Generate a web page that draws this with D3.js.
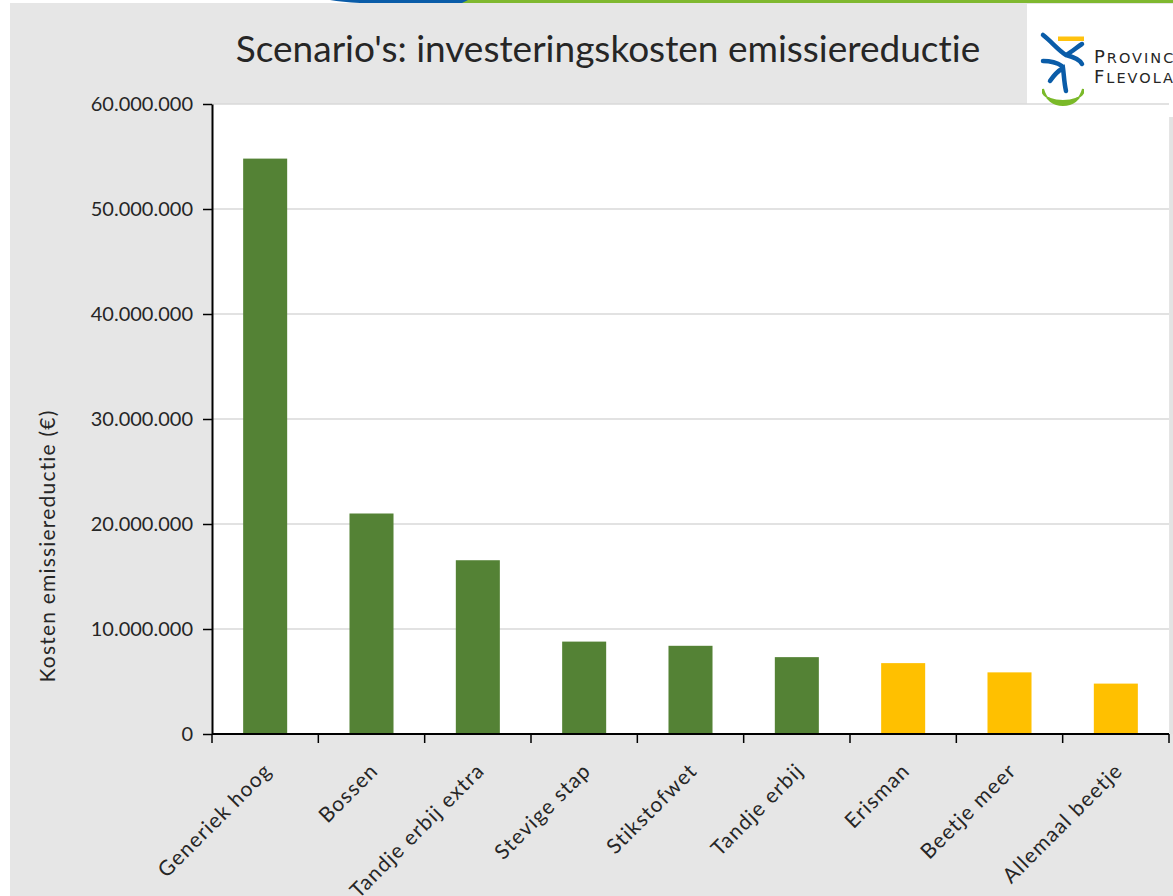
<!DOCTYPE html>
<html>
<head>
<meta charset="utf-8">
<script src="https://cdn.jsdelivr.net/npm/d3@7"></script>
<style>
  body { margin: 0; background: #fff; }
  svg { display: block; }
  text { font-variant-ligatures: none; }
</style>
</head>
<body>
<script>
// Gegevens van de grafiek
const scenarios = ["Generiek hoog", "Bossen", "Tandje erbij extra", "Stevige stap", "Stikstofwet",
                   "Tandje erbij", "Erisman", "Beetje meer", "Allemaal beetje"];
const kosten = [54800000, 21000000, 16550000, 8800000, 8400000, 7320000, 6750000, 5870000, 4800000];
const groep = ["groen", "groen", "groen", "groen", "groen", "groen", "geel", "geel", "geel"];
const yTicks = [0, 10000000, 20000000, 30000000, 40000000, 50000000, 60000000];
const titel = "Scenario's: investeringskosten emissiereductie";
const yTitel = "Kosten emissiereductie (€)";

const kleuren = { groen: "#548235", geel: "#ffc000" };
const font = "Lato, 'Open Sans', sans-serif";

const width = 1173;
const height = 896;
const plot = { left: 212, right: 1169, top: 104, bottom: 734 };

const svg = d3.select("body").append("svg")
    .attr("width", width)
    .attr("height", height);

// Achtergrond van de dia
svg.append("rect").attr("x", 10).attr("y", 3).attr("width", width - 10).attr("height", height - 3)
    .attr("fill", "#e6e6e6");

// Balk bovenaan (blauw + groen)
svg.append("rect").attr("x", 450).attr("y", 0).attr("width", width - 450).attr("height", 3).attr("fill", "#7fb82f");
svg.append("path").attr("d", "M330,0 L468,0 L462,3 L360,3 Q342,2 330,0 Z").attr("fill", "#0a5ca8");

// Witte vlakken: plotgebied en logo
svg.append("rect").attr("x", plot.left).attr("y", plot.top)
    .attr("width", plot.right - plot.left).attr("height", plot.bottom - plot.top).attr("fill", "#fff");
svg.append("rect").attr("x", 1027).attr("y", 4).attr("width", width - 1027).attr("height", 113).attr("fill", "#fff");
svg.append("rect").attr("x", 1169.5).attr("y", 117).attr("width", 3.5).attr("height", plot.bottom - 117).attr("fill", "#e3e3e3");

// Schalen
const x = d3.scaleBand().domain(scenarios).range([plot.left, plot.right]).paddingInner(0.586).paddingOuter(0.293);
const y = d3.scaleLinear().domain([0, 60000000]).range([plot.bottom, plot.top]);

const nl = d3.formatLocale({ decimal: ",", thousands: ".", grouping: [3], currency: ["€", ""] });
const fmt = nl.format(",d");

// Rasterlijnen
svg.append("g").selectAll("line")
    .data(yTicks.filter(d => d > 0))
    .join("line")
    .attr("x1", plot.left).attr("x2", plot.right)
    .attr("y1", d => y(d)).attr("y2", d => y(d))
    .attr("stroke", "#d9d9d9").attr("stroke-width", 1.5);

// Balken
svg.append("g").selectAll("rect")
    .data(scenarios)
    .join("rect")
    .attr("x", d => x(d))
    .attr("width", x.bandwidth())
    .attr("y", (d, i) => y(kosten[i]))
    .attr("height", (d, i) => y(0) - y(kosten[i]))
    .attr("fill", (d, i) => kleuren[groep[i]]);

// Y-as
const yAxis = svg.append("g")
    .attr("transform", `translate(${plot.left},0)`)
    .call(d3.axisLeft(y).tickValues(yTicks).tickFormat(fmt).tickSize(9).tickPadding(10).tickSizeOuter(0));
yAxis.select(".domain").attr("stroke", "#000").attr("stroke-width", 2);
yAxis.selectAll(".tick line").attr("stroke", "#000").attr("stroke-width", 1.5);
yAxis.selectAll(".tick text")
    .attr("font-family", font)
    .attr("font-size", 20)
    .attr("fill", "#262626");

// X-as met tickjes op de grenzen tussen de categorieën
const xAxis = svg.append("g");
xAxis.append("line")
    .attr("x1", plot.left).attr("x2", plot.right)
    .attr("y1", plot.bottom).attr("y2", plot.bottom)
    .attr("stroke", "#000").attr("stroke-width", 2);
const grenzen = scenarios.map(d => x(d) - x.step() * x.paddingInner() / 2).concat([plot.right]);
xAxis.selectAll("line.tik")
    .data(grenzen)
    .join("line")
    .attr("class", "tik")
    .attr("x1", d => d).attr("x2", d => d)
    .attr("y1", plot.bottom).attr("y2", plot.bottom + 9)
    .attr("stroke", "#000").attr("stroke-width", 1.5);

xAxis.selectAll("text")
    .data(scenarios)
    .join("text")
    .attr("transform", d => `translate(${x(d) + x.bandwidth() / 2 + 8},${plot.bottom + 38}) rotate(-45)`)
    .attr("text-anchor", "end")
    .attr("font-family", font)
    .attr("font-size", 21)
    .attr("letter-spacing", 1.2)
    .attr("fill", "#262626")
    .text(d => d);

// Astitel
svg.append("text")
    .attr("transform", "translate(55,546) rotate(-90)")
    .attr("text-anchor", "middle")
    .attr("font-family", font)
    .attr("font-size", 21)
    .attr("letter-spacing", 1.2)
    .attr("fill", "#262626")
    .text(yTitel);

// Titel
svg.append("text")
    .attr("x", 608)
    .attr("y", 62)
    .attr("text-anchor", "middle")
    .attr("font-family", font)
    .attr("font-size", 37)
    .attr("fill", "#262626")
    .text(titel);

// Logo Provincie Flevoland
const logo = svg.append("g");
logo.append("rect").attr("x", 1058).attr("y", 36.5).attr("width", 26).attr("height", 4.5).attr("fill", "#ffc20e");
logo.append("path")
    .attr("d", "M1043,35 C1052,42 1058,50 1066,55 C1072,52 1077,47 1082,44 M1066,55 C1074,57 1080,60 1082,64 M1043,61 C1050,61 1056,62 1062,66 M1050,81 C1054,75 1058,71 1063,68 C1064,75 1064,82 1066,91")
    .attr("fill", "none").attr("stroke", "#0a5ca8").attr("stroke-width", 4.5).attr("stroke-linecap", "round");
logo.append("path")
    .attr("d", "M1043,89 C1046,100 1054,105 1063,105 C1072,105 1080,100 1083,89 L1083,93 C1080,98 1072,101 1063,101 C1054,101 1046,98 1043,93 Z")
    .attr("fill", "#7ab929").attr("stroke", "#7ab929").attr("stroke-width", 2);
const logoTekst = [["P", "ROVINCIE", 63], ["F", "LEVOLAND", 83]];
logoTekst.forEach(([hoofd, rest, yy]) => {
    const t = logo.append("text")
        .attr("x", 1094).attr("y", yy)
        .attr("font-family", "'DejaVu Sans', sans-serif")
        .attr("fill", "#262626")
        .attr("letter-spacing", 2);
    t.append("tspan").attr("font-size", 18).text(hoofd);
    t.append("tspan").attr("font-size", 14.5).text(rest);
});
</script>
</body>
</html>
